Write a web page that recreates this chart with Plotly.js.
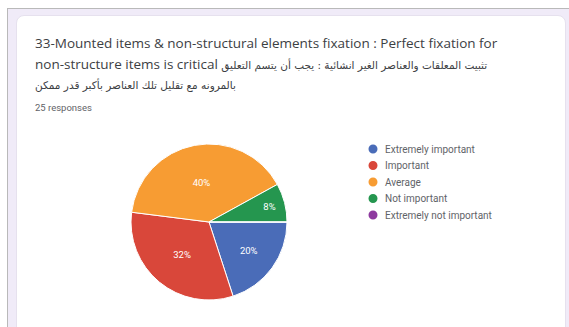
<!DOCTYPE html>
<html>
<head>
<meta charset="utf-8">
<script src="https://cdn.plot.ly/plotly-3.0.1.min.js"></script>
<style>
  html, body { margin:0; padding:0; background:#ffffff; width:569px; height:327px; overflow:hidden; }
  #frame { position:absolute; left:7px; top:8px; right:0; bottom:0; border-left:1px solid #b9b9b9; border-top:1px solid #b9b9b9; background:#f0ebf8; }
  #card { position:absolute; left:16px; top:15px; width:550px; height:330px; background:#ffffff; border-radius:8px; border:1px solid #e6e1ee; box-sizing:border-box; }
  #chart { position:absolute; left:0; top:0; width:569px; height:327px; }
</style>
</head>
<body>
<div id="frame"></div>
<div id="card"></div>
<div id="chart"></div>
<script>
const categories = ['Extremely important', 'Important', 'Average', 'Not important', 'Extremely not important'];
const counts = [5, 8, 10, 2, 0];
const colors = ['#4a6cb8', '#d9473a', '#f79c33', '#25964f', '#8e3a9f'];
const titleLatin = [
  '33-Mounted items & non-structural elements fixation : Perfect fixation for',
  'non-structure items is critical',
  ''
];
const titleArabic = [
  '',
  'تثبيت المعلقات والعناصر الغير انشائية : يجب أن يتسم التعليق',
  'بالمرونه مع تقليل تلك العناصر بأكبر قدر ممكن'
];
const responsesText = '25 responses';

const W = 569, H = 327;
const px = x => x / W;
const py = y => 1 - y / H;

const cx = 209, cy = 222, r = 78;

const pie = {
  type: 'pie',
  labels: categories,
  values: counts,
  sort: false,
  direction: 'clockwise',
  rotation: 90,
  marker: { colors: colors, line: { color: '#ffffff', width: 1 } },
  textinfo: 'percent',
  textposition: 'inside',
  insidetextfont: { color: '#ffffff', size: 9.5, family: 'Roboto, sans-serif' },
  showlegend: false,
  hoverinfo: 'label+percent',
  domain: { x: [px(cx - r), px(cx + r)], y: [py(cy + r), py(cy - r)] }
};

const annotations = [];
const shapes = [];
const titleY = [43, 63.5, 85];
titleLatin.forEach((t, i) => {
  let txt = t;
  if (titleArabic[i]) {
    txt += (t ? ' ' : '') + '<span style="font-size:10.5px;font-family:\'DejaVu Sans\'">' + titleArabic[i] + '</span>';
  }
  annotations.push({
    text: txt, xref: 'paper', yref: 'paper', x: px(33), y: py(titleY[i]),
    xanchor: 'left', yanchor: 'middle', showarrow: false, align: 'left',
    font: { family: '"Open Sans", "DejaVu Sans", sans-serif', size: 13.5, color: '#3c4043' }
  });
});
annotations.push({
  text: responsesText, xref: 'paper', yref: 'paper', x: px(33), y: py(107),
  xanchor: 'left', yanchor: 'middle', showarrow: false,
  font: { family: 'Roboto, sans-serif', size: 9.5, color: '#5f6368' }
});

const legendY0 = 149, legendStep = 16.5;
categories.forEach((c, i) => {
  const y = legendY0 + i * legendStep;
  shapes.push({
    type: 'circle', xref: 'paper', yref: 'paper',
    x0: px(373 - 4.5), x1: px(373 + 4.5), y0: py(y + 4.5), y1: py(y - 4.5),
    fillcolor: colors[i], line: { width: 0 }
  });
  annotations.push({
    text: c, xref: 'paper', yref: 'paper', x: px(383), y: py(y),
    xanchor: 'left', yanchor: 'middle', showarrow: false,
    font: { family: 'Roboto, sans-serif', size: 10, color: '#5f6368' }
  });
});

const layout = {
  width: W, height: H,
  margin: { l: 0, r: 0, t: 0, b: 0 },
  paper_bgcolor: 'rgba(0,0,0,0)',
  plot_bgcolor: 'rgba(0,0,0,0)',
  showlegend: false,
  annotations: annotations,
  shapes: shapes
};

Plotly.newPlot('chart', [pie], layout, { displayModeBar: false, staticPlot: true });
</script>
</body>
</html>
